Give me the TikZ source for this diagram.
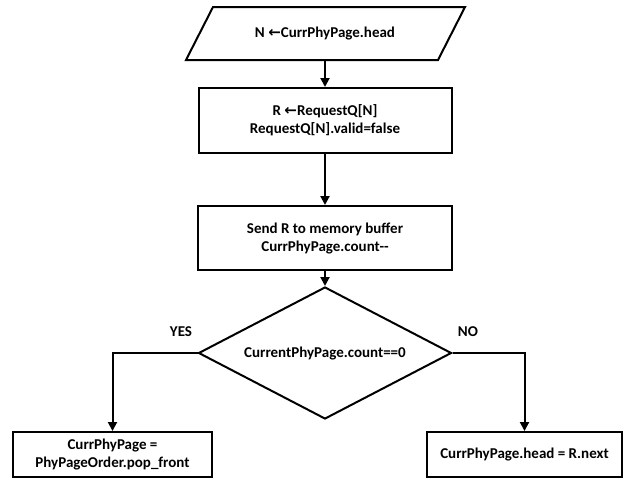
\documentclass[tikz,border=0pt]{standalone}
\usepackage{fontspec}
\setmainfont{Carlito}
\newfontfamily\arrowfont{DejaVu Sans}
\usetikzlibrary{shapes.geometric,arrows.meta}
\tikzstyle{block} = [draw, line width=2pt, text centered, align=center, inner sep=0pt, font=\bfseries\fontsize{15}{18}\selectfont]
\tikzstyle{io} = [text centered, inner sep=0pt, minimum width=225pt, minimum height=53pt, font=\bfseries\fontsize{15}{18}\selectfont]
\tikzstyle{test} = [block, diamond, aspect=2, minimum width=253pt, minimum height=132pt]
\tikzstyle{answer} = [font=\bfseries\fontsize{15}{18}\selectfont]
\tikzstyle{flow} = [line width=2pt, -{Triangle[length=9pt,width=9pt]}]

\begin{document}
\begin{tikzpicture}[x=1pt,y=-1pt]
	\useasboundingbox (0,0) rectangle (628,483);
	\draw[line width=2pt] (213,7) -- (465,7) -- (438,60) -- (186,60) -- cycle;
	\node[io] (head) at (325,33.5) {N {\arrowfont ←}CurrPhyPage.head};
	\node[block, minimum width=253pt, minimum height=65pt] (req) at (325,120.5) {R {\arrowfont ←}RequestQ[N]\\RequestQ[N].valid=false};
	\node[block, minimum width=254pt, minimum height=64pt] (send) at (325,238) {Send R to memory buffer\\CurrPhyPage.count-{}-};
	\node[test] (check) at (325,353) {CurrentPhyPage.count==0};
	\node[block, minimum width=199pt, minimum height=45pt] (pop) at (112.5,454.5) {CurrPhyPage =\\PhyPageOrder.pop\_front};
	\node[block, minimum width=195pt, minimum height=45pt] (next) at (524.5,454.5) {CurrPhyPage.head = R.next};
	\node[answer] (yes) at (181,332) {YES};
	\node[answer] (no) at (468,332) {NO};
	\draw[flow] (head) -- (req);
	\draw[flow] (req) -- (send);
	\draw[flow] (send) -- (check);
	\draw[flow] (check.west) -| (pop);
	\draw[flow] (check.east) -| (next);
\end{tikzpicture}
\end{document}
